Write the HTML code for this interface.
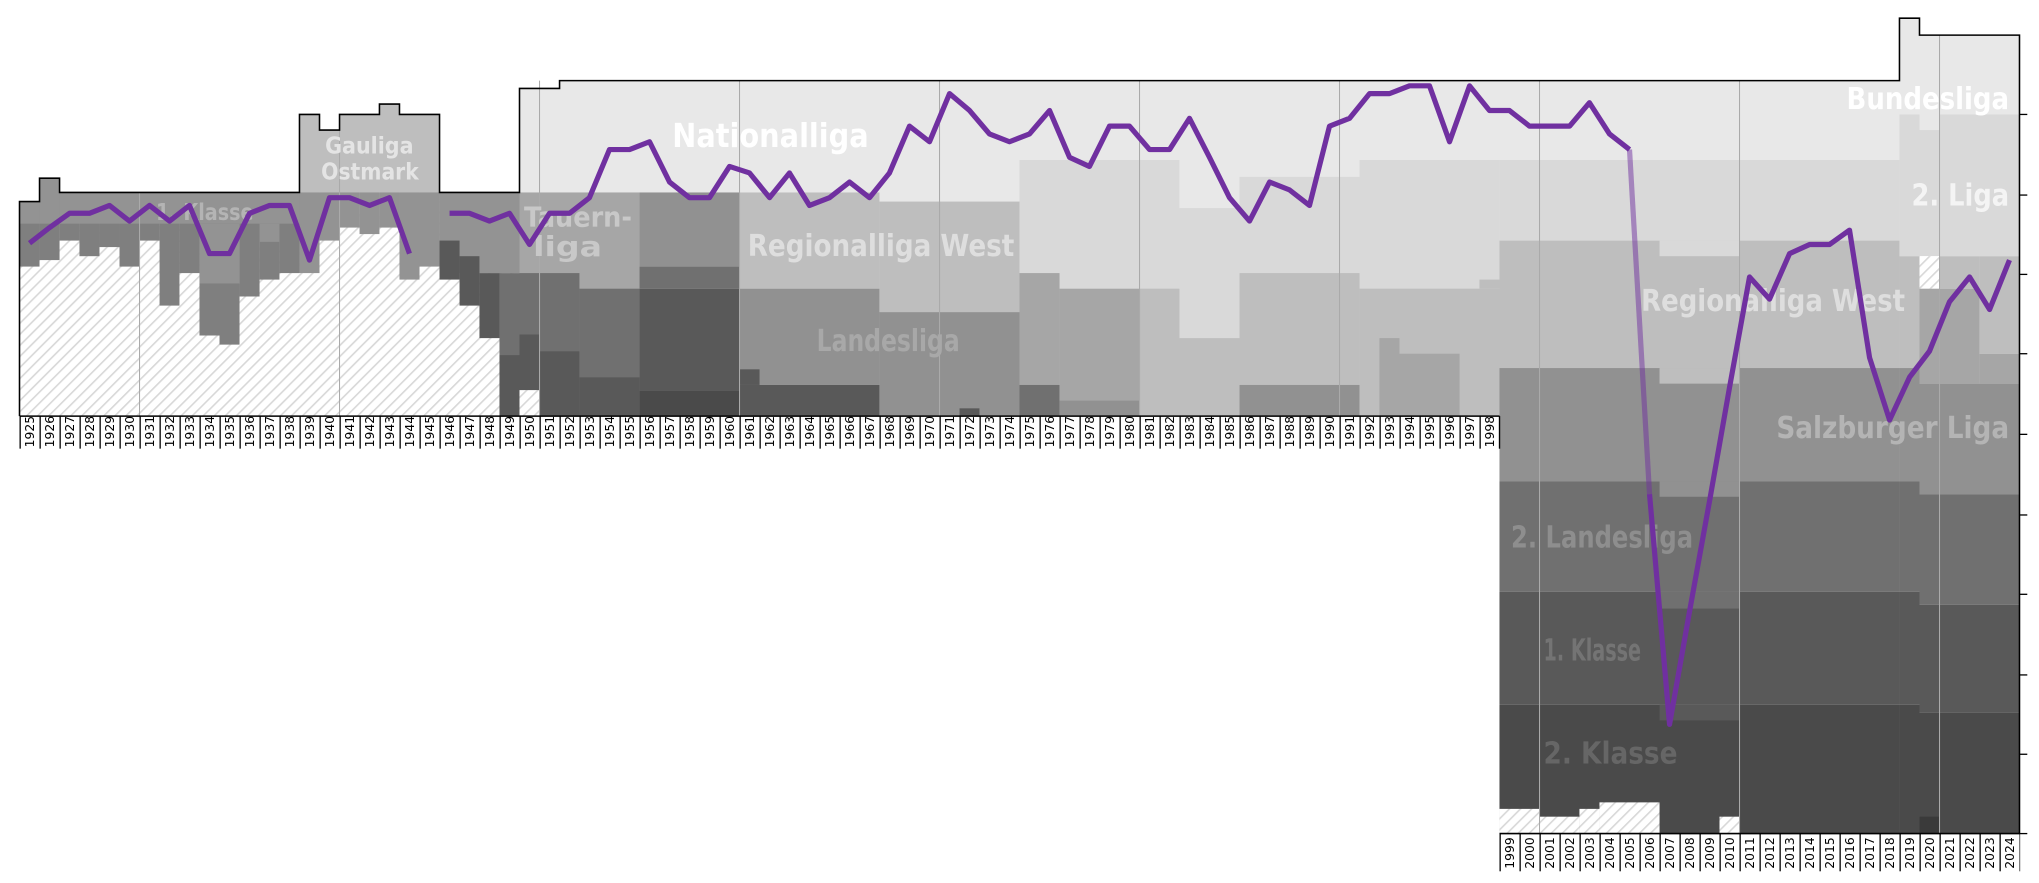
<!DOCTYPE html>
<html><head><meta charset="utf-8"><style>html,body{margin:0;padding:0;background:#fff;}svg{display:block}</style></head>
<body>
<svg width="2039" height="883" viewBox="0 0 1568 679" preserveAspectRatio="none" xmlns="http://www.w3.org/2000/svg">
<defs>
<pattern id="h" patternUnits="userSpaceOnUse" width="6" height="6" patternTransform="rotate(45)"><rect width="6" height="6" fill="#fff"/><line x1="0" y1="0" x2="0" y2="6" stroke="#d8d8d8" stroke-width="2.5"/></pattern>
<pattern id="tk" patternUnits="userSpaceOnUse" x="15" y="0" width="15.38" height="10"><line x1="0.5" y1="0" x2="0.5" y2="10" stroke="#000" stroke-width="1"/></pattern>
</defs>
<rect width="1568" height="679" fill="#fff"/>
<!-- upper hatch -->
<rect x="15" y="155" width="384.5" height="165" fill="url(#h)"/>
<!-- 1925-1938 -->
<g fill="#7f7f7f">
<rect x="15" y="155" width="15.4" height="50"/><rect x="30.4" y="137" width="15.4" height="63"/>
<rect x="45.8" y="148" width="15.3" height="37"/><rect x="61.1" y="148" width="15.4" height="49"/>
<rect x="76.5" y="148" width="15.4" height="42"/><rect x="91.9" y="148" width="15.4" height="57"/>
<rect x="107.3" y="148" width="15.4" height="37"/><rect x="122.7" y="148" width="15.3" height="87"/>
<rect x="138" y="148" width="15.4" height="62"/><rect x="153.4" y="148" width="15.4" height="110"/>
<rect x="168.8" y="148" width="15.4" height="117"/><rect x="184.2" y="148" width="15.4" height="80"/>
<rect x="199.6" y="148" width="15.3" height="67"/><rect x="214.9" y="148" width="15.4" height="62"/>
</g>
<g fill="#939393"><rect x="15" y="155" width="15.4" height="17"/><rect x="30.4" y="137" width="15.4" height="35"/><rect x="45.8" y="148" width="184.5" height="24"/><rect x="153.4" y="172" width="30.8" height="46"/><rect x="199.6" y="172" width="15.3" height="14"/></g>
<!-- 1939-1945 -->
<path d="M230.3,148 V88 H245.7 V100 H261.1 V88 H291.8 V80 H307.2 V88 H338 V148 Z" fill="#bebebe"/>
<g fill="#939393">
<rect x="230.3" y="148" width="15.4" height="62"/><rect x="245.7" y="148" width="15.4" height="37"/>
<rect x="261.1" y="148" width="15.4" height="27"/><rect x="276.5" y="148" width="15.3" height="32"/>
<rect x="291.8" y="148" width="15.4" height="27"/><rect x="307.2" y="148" width="15.4" height="67"/>
<rect x="322.6" y="148" width="15.4" height="57"/>
</g>
<!-- 1946-1949 -->
<g>
<rect x="338" y="148" width="61.5" height="62" fill="#939393"/>
<rect x="338" y="185" width="15.4" height="30" fill="#595959"/>
<rect x="353.4" y="197" width="15.3" height="38" fill="#595959"/>
<rect x="368.7" y="210" width="15.4" height="50" fill="#595959"/>
<rect x="384.1" y="210" width="15.4" height="63" fill="#707070"/>
<rect x="384.1" y="273" width="15.4" height="47" fill="#595959"/>
</g>
<!-- 1950-1998 -->
<path d="M399.5,320 V68 H430.3 V62 H1153.1 V320 Z" fill="#e8e8e8"/>
<g>
<rect x="399.5" y="148" width="92.3" height="172" fill="#a6a6a6"/>
<rect x="399.5" y="210" width="15.4" height="47" fill="#707070"/>
<rect x="399.5" y="257" width="15.4" height="43" fill="#595959"/>
<rect x="399.5" y="300" width="15.4" height="20" fill="url(#h)"/>
<rect x="414.9" y="210" width="30.7" height="60" fill="#707070"/>
<rect x="414.9" y="270" width="30.7" height="50" fill="#595959"/>
<rect x="445.6" y="222" width="46.2" height="68" fill="#707070"/>
<rect x="445.6" y="290" width="46.2" height="30" fill="#595959"/>
<rect x="491.8" y="148" width="76.9" height="57" fill="#919191"/>
<rect x="491.8" y="205" width="76.9" height="17" fill="#707070"/>
<rect x="491.8" y="222" width="76.9" height="78" fill="#595959"/>
<rect x="491.8" y="300" width="76.9" height="20" fill="#4a4a4a"/>
<rect x="568.7" y="148" width="107.6" height="74" fill="#bebebe"/>
<rect x="568.7" y="222" width="107.6" height="74" fill="#919191"/>
<rect x="568.7" y="296" width="107.6" height="24" fill="#595959"/>
<rect x="568.7" y="284" width="15.4" height="12" fill="#595959"/>
<rect x="676.3" y="155" width="107.7" height="85" fill="#bebebe"/>
<rect x="676.3" y="240" width="107.7" height="80" fill="#919191"/>
<rect x="737.9" y="314" width="15.3" height="6" fill="#595959"/>
<rect x="784" y="123" width="369.1" height="197" fill="#d9d9d9"/>
<rect x="784" y="210" width="30.8" height="86" fill="#a6a6a6"/>
<rect x="784" y="296" width="30.8" height="24" fill="#707070"/>
<rect x="814.8" y="222" width="61.5" height="86" fill="#a6a6a6"/>
<rect x="814.8" y="308" width="61.5" height="12" fill="#919191"/>
<rect x="876.3" y="222" width="30.7" height="98" fill="#bebebe"/>
<rect x="907" y="62" width="46.2" height="98" fill="#e8e8e8"/>
<rect x="907" y="260" width="46.2" height="60" fill="#bebebe"/>
<rect x="953.2" y="62" width="92.3" height="74" fill="#e8e8e8"/>
<rect x="953.2" y="210" width="92.3" height="86" fill="#bebebe"/>
<rect x="953.2" y="296" width="92.3" height="24" fill="#919191"/>
<rect x="1045.5" y="222" width="107.6" height="98" fill="#bebebe"/>
<rect x="1060.8" y="260" width="15.4" height="60" fill="#a6a6a6"/>
<rect x="1076.2" y="272" width="46.2" height="48" fill="#a6a6a6"/>
<rect x="1137.7" y="215" width="15.4" height="7" fill="#bebebe"/>
</g>
<!-- 1999-2024 -->
<g>
<rect x="1153.1" y="62" width="307.6" height="61" fill="#e8e8e8"/>
<rect x="1153.1" y="123" width="307.6" height="62" fill="#d9d9d9"/>
<rect x="1153.1" y="185" width="307.6" height="98" fill="#bebebe"/>
<rect x="1153.1" y="283" width="307.6" height="87" fill="#919191"/>
<rect x="1153.1" y="370" width="307.6" height="85" fill="#707070"/>
<rect x="1153.1" y="455" width="307.6" height="87" fill="#595959"/>
<rect x="1153.1" y="542" width="307.6" height="99" fill="#4a4a4a"/>
<rect x="1276.2" y="185" width="61.5" height="12" fill="#d9d9d9"/>
<rect x="1276.2" y="283" width="61.5" height="12" fill="#bebebe"/>
<rect x="1276.2" y="370" width="61.5" height="12" fill="#919191"/>
<rect x="1276.2" y="455" width="61.5" height="13" fill="#707070"/>
<rect x="1276.2" y="542" width="61.5" height="12" fill="#595959"/>
<rect x="1153.1" y="622" width="30.8" height="19" fill="url(#h)"/>
<rect x="1183.9" y="628" width="30.7" height="13" fill="url(#h)"/>
<rect x="1214.6" y="622" width="15.4" height="19" fill="url(#h)"/>
<rect x="1230" y="617" width="46.2" height="24" fill="url(#h)"/>
<rect x="1322.3" y="628" width="15.4" height="13" fill="url(#h)"/>
<rect x="1460.7" y="14" width="15.4" height="74" fill="#e8e8e8"/>
<rect x="1476.1" y="27" width="76.9" height="61" fill="#e8e8e8"/>
<rect x="1460.7" y="88" width="92.3" height="109" fill="#d9d9d9"/>
<rect x="1476.1" y="88" width="15.4" height="12" fill="#e8e8e8"/>
<rect x="1460.7" y="197" width="15.4" height="86" fill="#bebebe"/>
<rect x="1476.1" y="197" width="15.4" height="25" fill="url(#h)"/>
<rect x="1491.5" y="197" width="30.7" height="25" fill="#bebebe"/>
<rect x="1522.2" y="197" width="30.8" height="75" fill="#bebebe"/>
<rect x="1476.1" y="222" width="46.1" height="73" fill="#a6a6a6"/>
<rect x="1522.2" y="272" width="30.8" height="23" fill="#a6a6a6"/>
<rect x="1460.7" y="283" width="15.4" height="87" fill="#919191"/>
<rect x="1476.1" y="295" width="76.9" height="85" fill="#919191"/>
<rect x="1460.7" y="370" width="15.4" height="85" fill="#707070"/>
<rect x="1476.1" y="380" width="76.9" height="85" fill="#707070"/>
<rect x="1460.7" y="455" width="15.4" height="87" fill="#595959"/>
<rect x="1476.1" y="465" width="76.9" height="83" fill="#595959"/>
<rect x="1460.7" y="542" width="15.4" height="99" fill="#4a4a4a"/>
<rect x="1476.1" y="548" width="76.9" height="93" fill="#4a4a4a"/>
<rect x="1476.1" y="628" width="15.4" height="13" fill="#3a3a3a"/>
</g>
<!-- decade lines -->
<g stroke="#aaa" stroke-width="0.8">
<line x1="107.3" y1="148" x2="107.3" y2="320"/><line x1="261.1" y1="88" x2="261.1" y2="320"/>
<line x1="414.9" y1="62" x2="414.9" y2="320"/><line x1="568.7" y1="62" x2="568.7" y2="320"/>
<line x1="722.5" y1="62" x2="722.5" y2="320"/><line x1="876.3" y1="62" x2="876.3" y2="320"/>
<line x1="1030.1" y1="62" x2="1030.1" y2="320"/><line x1="1183.9" y1="62" x2="1183.9" y2="641"/>
<line x1="1337.7" y1="62" x2="1337.7" y2="641"/><line x1="1491.5" y1="27" x2="1491.5" y2="641"/>
</g>
<!-- outline -->
<path d="M15,320 V155 H30.4 V137 H45.8 V148 H230.3 V88 H245.7 V100 H261.1 V88 H291.8 V80 H307.2 V88 H338 V148 H399.5 V68 H430.3 V62 H1460.7 V14 H1476.1 V27 H1553 V641" fill="none" stroke="#000" stroke-width="1.2"/>
<line x1="15" y1="320" x2="1153.1" y2="320" stroke="#000" stroke-width="1.2"/>
<line x1="1153.1" y1="641" x2="1553" y2="641" stroke="#000" stroke-width="1.2"/>
<line x1="1153.1" y1="320" x2="1153.1" y2="345" stroke="#000"/>
<g stroke="#000" stroke-width="1">
<line x1="1553" y1="88" x2="1559" y2="88"/><line x1="1553" y1="150" x2="1559" y2="150"/><line x1="1553" y1="211" x2="1559" y2="211"/><line x1="1553" y1="272" x2="1559" y2="272"/><line x1="1553" y1="334" x2="1559" y2="334"/><line x1="1553" y1="396" x2="1559" y2="396"/><line x1="1553" y1="457" x2="1559" y2="457"/><line x1="1553" y1="519" x2="1559" y2="519"/><line x1="1553" y1="580" x2="1559" y2="580"/><line x1="1553" y1="641" x2="1559" y2="641"/>
</g>
<rect x="15" y="320" width="1138.6" height="25" fill="url(#tk)"/>
<rect x="1153" y="641" width="400.5" height="29" fill="url(#tk)"/>
<!-- league labels -->
<g font-family="DejaVu Sans Condensed, DejaVu Sans, Liberation Sans, sans-serif" font-weight="bold" lengthAdjust="spacingAndGlyphs">
<text x="120" y="169" font-size="18" fill="#b4b4b4" textLength="75" lengthAdjust="spacingAndGlyphs">1. Klasse</text>
<text x="250" y="118" font-size="18" fill="#e4e4e4" textLength="68" lengthAdjust="spacingAndGlyphs">Gauliga</text>
<text x="247" y="138" font-size="18" fill="#e4e4e4" textLength="75" lengthAdjust="spacingAndGlyphs">Ostmark</text>
<text x="403" y="174" font-size="21" fill="#c8c8c8" textLength="83" lengthAdjust="spacingAndGlyphs">Tauern-</text>
<text x="410" y="197" font-size="21" fill="#c8c8c8" textLength="53" lengthAdjust="spacingAndGlyphs">liga</text>
<text x="517" y="113" font-size="25" fill="#fff" textLength="151" lengthAdjust="spacingAndGlyphs">Nationalliga</text>
<text x="575" y="197" font-size="23" fill="#dedede" textLength="205" lengthAdjust="spacingAndGlyphs">Regionalliga West</text>
<text x="628" y="270" font-size="23" fill="#a8a8a8" textLength="110" lengthAdjust="spacingAndGlyphs">Landesliga</text>
<text x="1420" y="84" font-size="23" fill="#fff" textLength="125" lengthAdjust="spacingAndGlyphs">Bundesliga</text>
<text x="1470" y="158" font-size="23" fill="#f4f4f4" textLength="75" lengthAdjust="spacingAndGlyphs">2. Liga</text>
<text x="1262" y="239" font-size="23" fill="#dedede" textLength="203" lengthAdjust="spacingAndGlyphs">Regionalliga West</text>
<text x="1366" y="337" font-size="23" fill="#b4b4b4" textLength="179" lengthAdjust="spacingAndGlyphs">Salzburger Liga</text>
<text x="1162" y="421" font-size="23" fill="#8e8e8e" textLength="140" lengthAdjust="spacingAndGlyphs">2. Landesliga</text>
<text x="1187" y="508" font-size="23" fill="#747474" textLength="75" lengthAdjust="spacingAndGlyphs">1. Klasse</text>
<text x="1187" y="587" font-size="23" fill="#666" textLength="103" lengthAdjust="spacingAndGlyphs">2. Klasse</text>
</g>
<!-- line -->
<g fill="none" stroke="#7030a0" stroke-width="4" stroke-linejoin="round">
<polyline points="22.7,187 38.1,175 53.5,164 68.8,164 84.2,158 99.6,170 115,158 130.4,170 145.7,158 161.1,195 176.5,195 191.9,164 207.3,158 222.6,158 238,200 253.4,152 268.8,152 284.2,158 299.5,152 314.9,195"/>
<polyline points="345.7,164 361.1,164 376.4,170 391.8,164 407.2,188 422.6,164 438,164 453.3,152 468.7,115 484.1,115 499.5,109 514.9,140 530.2,152 545.6,152 561,128 576.4,133 591.8,152 607.1,133 622.5,158 637.9,152 653.3,140 668.7,152 684,133 699.4,97 714.8,109 730.2,72 745.6,85 760.9,103 776.3,109 791.7,103 807.1,85 822.5,121 837.8,128 853.2,97 868.6,97 884,115 899.4,115 914.7,91 930.1,121 945.5,152 960.9,170 976.3,140 991.6,146 1007,158 1022.4,97 1037.8,91 1053.2,72 1068.5,72 1083.9,66 1099.3,66 1114.7,109 1130.1,66 1145.4,85 1160.8,85 1176.2,97 1191.6,97 1207,97 1222.3,79 1237.7,103 1253.1,115"/>
<polyline points="1253.1,115 1268.5,380" stroke-opacity="0.5"/>
<polyline points="1268.5,380 1283.9,557 1299.3,470 1314.7,385 1330,298 1345.4,213 1360.8,230 1376.2,195 1391.6,188 1406.9,188 1422.3,177 1437.7,275 1453.1,323 1468.5,290 1483.8,270 1499.2,232 1514.6,213 1530,238 1545.3,200"/>
</g>
<!-- year labels -->
<g font-family="DejaVu Sans, Liberation Sans, sans-serif" font-size="9.5" fill="#000">
<text transform="translate(26.2,344) rotate(-90)">1925</text><text transform="translate(41.6,344) rotate(-90)">1926</text><text transform="translate(57,344) rotate(-90)">1927</text><text transform="translate(72.3,344) rotate(-90)">1928</text><text transform="translate(87.7,344) rotate(-90)">1929</text><text transform="translate(103.1,344) rotate(-90)">1930</text><text transform="translate(118.5,344) rotate(-90)">1931</text><text transform="translate(133.9,344) rotate(-90)">1932</text><text transform="translate(149.2,344) rotate(-90)">1933</text><text transform="translate(164.6,344) rotate(-90)">1934</text><text transform="translate(180,344) rotate(-90)">1935</text><text transform="translate(195.4,344) rotate(-90)">1936</text><text transform="translate(210.8,344) rotate(-90)">1937</text><text transform="translate(226.1,344) rotate(-90)">1938</text><text transform="translate(241.5,344) rotate(-90)">1939</text><text transform="translate(256.9,344) rotate(-90)">1940</text><text transform="translate(272.3,344) rotate(-90)">1941</text><text transform="translate(287.7,344) rotate(-90)">1942</text><text transform="translate(303,344) rotate(-90)">1943</text><text transform="translate(318.4,344) rotate(-90)">1944</text><text transform="translate(333.8,344) rotate(-90)">1945</text><text transform="translate(349.2,344) rotate(-90)">1946</text><text transform="translate(364.6,344) rotate(-90)">1947</text><text transform="translate(379.9,344) rotate(-90)">1948</text><text transform="translate(395.3,344) rotate(-90)">1949</text><text transform="translate(410.7,344) rotate(-90)">1950</text><text transform="translate(426.1,344) rotate(-90)">1951</text><text transform="translate(441.5,344) rotate(-90)">1952</text><text transform="translate(456.8,344) rotate(-90)">1953</text><text transform="translate(472.2,344) rotate(-90)">1954</text><text transform="translate(487.6,344) rotate(-90)">1955</text><text transform="translate(503,344) rotate(-90)">1956</text><text transform="translate(518.4,344) rotate(-90)">1957</text><text transform="translate(533.7,344) rotate(-90)">1958</text><text transform="translate(549.1,344) rotate(-90)">1959</text><text transform="translate(564.5,344) rotate(-90)">1960</text><text transform="translate(579.9,344) rotate(-90)">1961</text><text transform="translate(595.3,344) rotate(-90)">1962</text><text transform="translate(610.6,344) rotate(-90)">1963</text><text transform="translate(626,344) rotate(-90)">1964</text><text transform="translate(641.4,344) rotate(-90)">1965</text><text transform="translate(656.8,344) rotate(-90)">1966</text><text transform="translate(672.2,344) rotate(-90)">1967</text><text transform="translate(687.5,344) rotate(-90)">1968</text><text transform="translate(702.9,344) rotate(-90)">1969</text><text transform="translate(718.3,344) rotate(-90)">1970</text><text transform="translate(733.7,344) rotate(-90)">1971</text><text transform="translate(749.1,344) rotate(-90)">1972</text><text transform="translate(764.4,344) rotate(-90)">1973</text><text transform="translate(779.8,344) rotate(-90)">1974</text><text transform="translate(795.2,344) rotate(-90)">1975</text><text transform="translate(810.6,344) rotate(-90)">1976</text><text transform="translate(826,344) rotate(-90)">1977</text><text transform="translate(841.3,344) rotate(-90)">1978</text><text transform="translate(856.7,344) rotate(-90)">1979</text><text transform="translate(872.1,344) rotate(-90)">1980</text><text transform="translate(887.5,344) rotate(-90)">1981</text><text transform="translate(902.9,344) rotate(-90)">1982</text><text transform="translate(918.2,344) rotate(-90)">1983</text><text transform="translate(933.6,344) rotate(-90)">1984</text><text transform="translate(949,344) rotate(-90)">1985</text><text transform="translate(964.4,344) rotate(-90)">1986</text><text transform="translate(979.8,344) rotate(-90)">1987</text><text transform="translate(995.1,344) rotate(-90)">1988</text><text transform="translate(1010.5,344) rotate(-90)">1989</text><text transform="translate(1025.9,344) rotate(-90)">1990</text><text transform="translate(1041.3,344) rotate(-90)">1991</text><text transform="translate(1056.7,344) rotate(-90)">1992</text><text transform="translate(1072,344) rotate(-90)">1993</text><text transform="translate(1087.4,344) rotate(-90)">1994</text><text transform="translate(1102.8,344) rotate(-90)">1995</text><text transform="translate(1118.2,344) rotate(-90)">1996</text><text transform="translate(1133.6,344) rotate(-90)">1997</text><text transform="translate(1148.9,344) rotate(-90)">1998</text>
<text transform="translate(1164.3,668) rotate(-90)">1999</text><text transform="translate(1179.7,668) rotate(-90)">2000</text><text transform="translate(1195.1,668) rotate(-90)">2001</text><text transform="translate(1210.5,668) rotate(-90)">2002</text><text transform="translate(1225.8,668) rotate(-90)">2003</text><text transform="translate(1241.2,668) rotate(-90)">2004</text><text transform="translate(1256.6,668) rotate(-90)">2005</text><text transform="translate(1272,668) rotate(-90)">2006</text><text transform="translate(1287.4,668) rotate(-90)">2007</text><text transform="translate(1302.7,668) rotate(-90)">2008</text><text transform="translate(1318.1,668) rotate(-90)">2009</text><text transform="translate(1333.5,668) rotate(-90)">2010</text><text transform="translate(1348.9,668) rotate(-90)">2011</text><text transform="translate(1364.3,668) rotate(-90)">2012</text><text transform="translate(1379.6,668) rotate(-90)">2013</text><text transform="translate(1395,668) rotate(-90)">2014</text><text transform="translate(1410.4,668) rotate(-90)">2015</text><text transform="translate(1425.8,668) rotate(-90)">2016</text><text transform="translate(1441.2,668) rotate(-90)">2017</text><text transform="translate(1456.5,668) rotate(-90)">2018</text><text transform="translate(1471.9,668) rotate(-90)">2019</text><text transform="translate(1487.3,668) rotate(-90)">2020</text><text transform="translate(1502.7,668) rotate(-90)">2021</text><text transform="translate(1518.1,668) rotate(-90)">2022</text><text transform="translate(1533.4,668) rotate(-90)">2023</text><text transform="translate(1548.8,668) rotate(-90)">2024</text>
</g>
</svg>
</body></html>
